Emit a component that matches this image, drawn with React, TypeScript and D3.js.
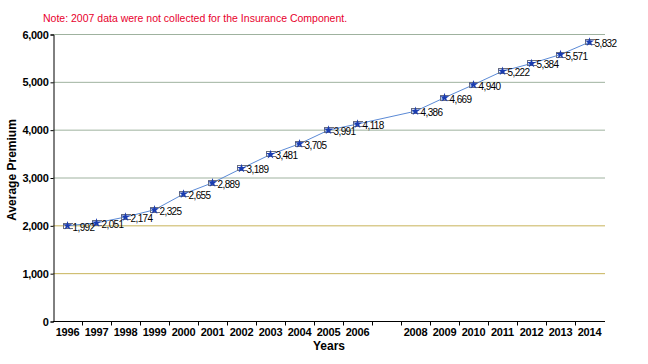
import { useEffect, useRef } from 'react';
import * as d3 from 'd3';

const years = ['1996', '1997', '1998', '1999', '2000', '2001', '2002', '2003', '2004', '2005', '2006', '2007', '2008', '2009', '2010', '2011', '2012', '2013', '2014'];
const premiumYears = ['1996', '1997', '1998', '1999', '2000', '2001', '2002', '2003', '2004', '2005', '2006', '2008', '2009', '2010', '2011', '2012', '2013', '2014'];
const premiums = [1992, 2051, 2174, 2325, 2655, 2889, 3189, 3481, 3705, 3991, 4118, 4386, 4669, 4940, 5222, 5384, 5571, 5832];
const yTicks = [0, 1000, 2000, 3000, 4000, 5000, 6000];

export default function App() {
  const svgRef = useRef<SVGSVGElement | null>(null);

  useEffect(() => {
    if (!svgRef.current) return;
    const svg = d3.select(svgRef.current);
    svg.selectAll('*').remove();

    const width = 648;
    const height = 364;
    const left = 53;
    const right = 604;
    const top = 34;
    const bottom = 321;
    const font = "'Liberation Sans', Arial, sans-serif";

    svg.attr('width', width).attr('height', height);

    const x = d3.scaleBand().domain(years).range([left, right]);
    const cx = (yr: string) => (x(yr) as number) + x.bandwidth() / 2;
    const y = d3.scaleLinear().domain([0, 6000]).range([bottom, top]);

    const data = premiumYears.map((yr, i) => ({ year: yr, value: premiums[i] }));

    // note
    svg.append('text')
      .attr('x', 43)
      .attr('y', 22)
      .attr('font-family', font)
      .attr('font-size', '10.5px')
      .attr('fill', '#e8002c')
      .text('Note:  2007 data were not collected for the  Insurance Component.');

    // grid
    svg.append('g')
      .selectAll('line')
      .data(yTicks.filter((d) => d > 0))
      .join('line')
      .attr('x1', left)
      .attr('x2', right + 1)
      .attr('y1', (d) => y(d) + 0.5)
      .attr('y2', (d) => y(d) + 0.5)
      .attr('stroke', (d) => (d <= 2000 ? '#c8b45a' : '#9fb29f'))
      .attr('stroke-width', 1);

    // y axis
    const yAxis = svg.append('g')
      .attr('transform', `translate(${left + 0.5},0.5)`)
      .call(d3.axisLeft(y).tickValues(yTicks).tickSize(3).tickFormat(d3.format(',')));
    yAxis.select('.domain').attr('stroke', '#000');
    yAxis.selectAll('text')
      .attr('font-family', font)
      .attr('font-size', '11px')
      .attr('font-weight', 'bold')
      .attr('letter-spacing', '-0.3')
      .attr('fill', '#000')
      .attr('dx', '1');

    // x axis
    const xAxis = svg.append('g')
      .attr('transform', `translate(0,${bottom + 0.5})`);
    xAxis.append('line')
      .attr('x1', left)
      .attr('x2', right + 1)
      .attr('stroke', '#000');
    xAxis.selectAll('.tk')
      .data(years.slice(1))
      .join('line')
      .attr('class', 'tk')
      .attr('x1', (d) => (x(d) as number) + 0.5)
      .attr('x2', (d) => (x(d) as number) + 0.5)
      .attr('y2', 4)
      .attr('stroke', '#000');
    xAxis.selectAll('text')
      .data(years.filter((d) => d !== '2007'))
      .join('text')
      .attr('x', (d) => cx(d))
      .attr('y', 14)
      .attr('text-anchor', 'middle')
      .attr('font-family', font)
      .attr('font-size', '11px')
      .attr('font-weight', 'bold')
      .attr('letter-spacing', '-0.2')
      .text((d) => d);

    // axis titles
    svg.append('text')
      .attr('x', 329)
      .attr('y', 350)
      .attr('text-anchor', 'middle')
      .attr('font-family', font)
      .attr('font-size', '12px')
      .attr('font-weight', 'bold')
      .text('Years');

    svg.append('text')
      .attr('transform', 'rotate(-90)')
      .attr('x', -170)
      .attr('y', 16)
      .attr('text-anchor', 'middle')
      .attr('font-family', font)
      .attr('font-size', '12px')
      .attr('font-weight', 'bold')
      .text('Average Premium');

    // line
    const line = d3.line<{ year: string; value: number }>()
      .x((d) => cx(d.year))
      .y((d) => y(d.value));
    svg.append('path')
      .datum(data)
      .attr('fill', 'none')
      .attr('stroke', '#5b8ad6')
      .attr('stroke-width', 1)
      .attr('d', line);

    // error bars
    const eb = svg.append('g')
      .attr('stroke', '#6a6f80')
      .attr('stroke-width', 1);
    data.forEach((d) => {
      const px = Math.round(cx(d.year));
      const py = Math.round(y(d.value));
      eb.append('line').attr('x1', px - 5).attr('x2', px + 5).attr('y1', py - 2.5).attr('y2', py - 2.5);
      eb.append('line').attr('x1', px - 5).attr('x2', px + 5).attr('y1', py + 2.5).attr('y2', py + 2.5);
      eb.append('line').attr('x1', px - 4.5).attr('x2', px - 4.5).attr('y1', py - 2.5).attr('y2', py + 2.5);
    });

    // markers
    const star = d3.symbol().type(d3.symbolStar).size(26);
    svg.append('g')
      .selectAll('path')
      .data(data)
      .join('path')
      .attr('transform', (d) => `translate(${cx(d.year)},${y(d.value)})`)
      .attr('d', star)
      .attr('fill', '#1a3cb0');

    // labels
    svg.append('g')
      .selectAll('text')
      .data(data)
      .join('text')
      .attr('x', (d) => cx(d.year) + 5)
      .attr('y', (d) => y(d.value) + 5)
      .attr('font-family', font)
      .attr('font-size', '10px')
      .attr('letter-spacing', '-0.6')
      .attr('fill', '#000')
      .text((d) => d3.format(',')(d.value));
  }, []);

  return (
    <div style={{ position: 'absolute', left: 0, top: 0, background: '#fff' }}>
      <svg ref={svgRef}></svg>
    </div>
  );
}
